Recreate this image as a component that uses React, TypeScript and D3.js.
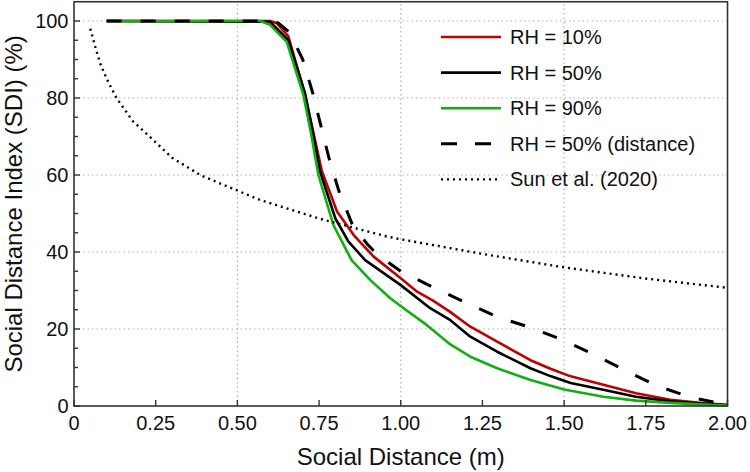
import React from "react";
import * as d3 from "d3";

// ---- data ----
const rh10X = [0.10, 0.60, 0.62, 0.656, 0.705, 0.73, 0.759, 0.805, 0.856, 0.917, 1.00, 1.05, 1.10, 1.15, 1.213, 1.295, 1.397, 1.46, 1.52, 1.62, 1.72, 1.825, 1.93, 2.00];
const rh10Y = [100, 100, 99.5, 96, 81.5, 72, 60.9, 50.5, 44.4, 38.8, 33.2, 29.7, 27.3, 24.5, 20.6, 16.7, 11.9, 9.6, 7.7, 5.5, 3.3, 1.6, 0.7, 0.3];

const rh50X = [0.10, 0.60, 0.656, 0.707, 0.73, 0.753, 0.80, 0.84, 0.891, 1.00, 1.09, 1.152, 1.213, 1.295, 1.397, 1.46, 1.52, 1.62, 1.72, 1.825, 2.00];
const rh50Y = [100, 99.8, 95, 81.2, 71.5, 60.9, 48.7, 42.7, 37.9, 31.4, 25.4, 22.3, 18.0, 14.1, 9.8, 7.7, 6.0, 4.2, 2.4, 1.2, 0.2];

const rh90X = [0.10, 0.57, 0.60, 0.651, 0.702, 0.725, 0.748, 0.794, 0.85, 0.907, 0.968, 1.009, 1.08, 1.152, 1.213, 1.295, 1.397, 1.50, 1.62, 1.72, 1.825, 2.00];
const rh90Y = [100, 100, 99, 94.6, 80.8, 71, 60, 47, 37.8, 32.7, 28, 25.4, 21, 16, 12.8, 9.8, 6.75, 4.3, 2.4, 1.4, 0.8, 0.1];

const distX = [0.10, 0.60, 0.625, 0.66, 0.70, 0.73, 0.755, 0.78, 0.81, 0.85, 0.87, 0.90, 0.93, 1.00, 1.10, 1.20, 1.30, 1.40, 1.50, 1.60, 1.69, 1.785, 1.89, 2.00];
const distY = [100, 100, 99.5, 97, 90, 81.5, 73, 64.5, 56, 47.5, 45, 41.8, 39.2, 35, 30.8, 26.8, 23, 20.3, 17, 13, 9.1, 5.2, 2.2, 0.3];

const sunX = [0.05, 0.065, 0.08, 0.10, 0.13, 0.18, 0.25, 0.30, 0.386, 0.47, 0.57, 0.75, 0.958, 1.00, 1.25, 1.50, 1.75, 2.00];
const sunY = [98, 93.3, 89, 85, 80, 74, 68.5, 64.5, 60, 57, 53.5, 48.7, 44, 43.3, 39.5, 36, 33.1, 30.7];

const xTicks = [0, 0.25, 0.5, 0.75, 1.0, 1.25, 1.5, 1.75, 2.0];
const xTickLabels = ["0", "0.25", "0.50", "0.75", "1.00", "1.25", "1.50", "1.75", "2.00"];
const xGrid = [0.5, 1.0, 1.5];
const yTicks = [0, 20, 40, 60, 80, 100];
const yMinor = d3.range(0, 105, 5);
const yGrid = [20, 40, 60, 80, 100];

const legendLabels = ["RH = 10%", "RH = 50%", "RH = 90%", "RH = 50% (distance)", "Sun et al. (2020)"];

const W = 750, H = 472;
const FONT = "'Liberation Sans', Arial, sans-serif";

export default function App() {
  const x = d3.scaleLinear().domain([0, 2]).range([74, 727.5]);
  const y = d3.scaleLinear().domain([0, 105]).range([406, 1.75]);
  const line = d3.line<[number, number]>().x(d => x(d[0])).y(d => y(d[1]));
  const zip = (a: number[], b: number[]) => a.map((v, i) => [v, b[i]] as [number, number]);

  const series = [
    { xs: rh10X, ys: rh10Y, color: "#c00000", w: 2.6, dash: "" },
    { xs: rh50X, ys: rh50Y, color: "#000000", w: 2.6, dash: "" },
    { xs: rh90X, ys: rh90Y, color: "#10b010", w: 2.6, dash: "" },
    { xs: distX, ys: distY, color: "#000000", w: 3, dash: "15,19" },
    { xs: sunX, ys: sunY, color: "#000000", w: 2.4, dash: "2,4" },
  ];

  const x0 = x(0), x1 = x(2), y0 = y(0), y1 = y(105);

  return (
    <svg width={W} height={H} style={{ position: "absolute", left: 0, top: 0, background: "#fff" }} fontFamily={FONT}>
      <rect x={0} y={0} width={W} height={H} fill="#fff" />
      {/* grid */}
      <g stroke="#b0b0b0" strokeWidth={1.2} strokeDasharray="1.5,3">
        {xGrid.map(v => <line key={"gx" + v} x1={x(v)} x2={x(v)} y1={y0} y2={y1} />)}
        {yGrid.map(v => <line key={"gy" + v} x1={x0} x2={x1} y1={y(v)} y2={y(v)} />)}
      </g>
      {/* series */}
      {series.map((s, i) => (
        <path key={"s" + i} d={line(zip(s.xs, s.ys)) || ""} fill="none" stroke={s.color}
          strokeWidth={s.w} strokeDasharray={s.dash || undefined} strokeLinejoin="round" />
      ))}
      {/* frame */}
      <rect x={x0} y={y1} width={x1 - x0} height={y0 - y1} fill="none" stroke="#333" strokeWidth={1.6} />
      {/* ticks */}
      <g stroke="#333" strokeWidth={1.4}>
        {xTicks.map(v => <line key={"xt" + v} x1={x(v)} x2={x(v)} y1={y0} y2={y0 - 6} />)}
        {yMinor.map(v => <line key={"ym" + v} x1={x0} x2={x0 + (v % 20 === 0 ? 6 : 4)} y1={y(v)} y2={y(v)} />)}
      </g>
      {/* tick labels */}
      <g fontSize={20} fill="#111">
        {xTicks.map((v, i) => (
          <text key={"xl" + v} x={x(v)} y={429.5} textAnchor="middle">{xTickLabels[i]}</text>
        ))}
        {yTicks.map(v => (
          <text key={"yl" + v} x={68.5} y={y(v) + 7} textAnchor="end">{v}</text>
        ))}
      </g>
      {/* axis titles */}
      <text x={(x0 + x1) / 2} y={465} textAnchor="middle" fontSize={24} fill="#111">Social Distance (m)</text>
      <text transform={`translate(21.5,${(y0 + y1) / 2}) rotate(-90)`} textAnchor="middle" fontSize={24} fill="#111">
        Social Distance Index (SDI) (%)
      </text>
      {/* legend */}
      {legendLabels.map((lab, i) => {
        const ly = 37 + i * 35.6;
        const s = series[i];
        return (
          <g key={"lg" + i}>
            <line x1={441} x2={501} y1={ly} y2={ly} stroke={s.color} strokeWidth={s.w}
              strokeDasharray={s.dash ? (i === 3 ? "16,18" : "2,4") : undefined} />
            <text x={510} y={ly + 7} fontSize={20} fill="#111">{lab}</text>
          </g>
        );
      })}
    </svg>
  );
}
